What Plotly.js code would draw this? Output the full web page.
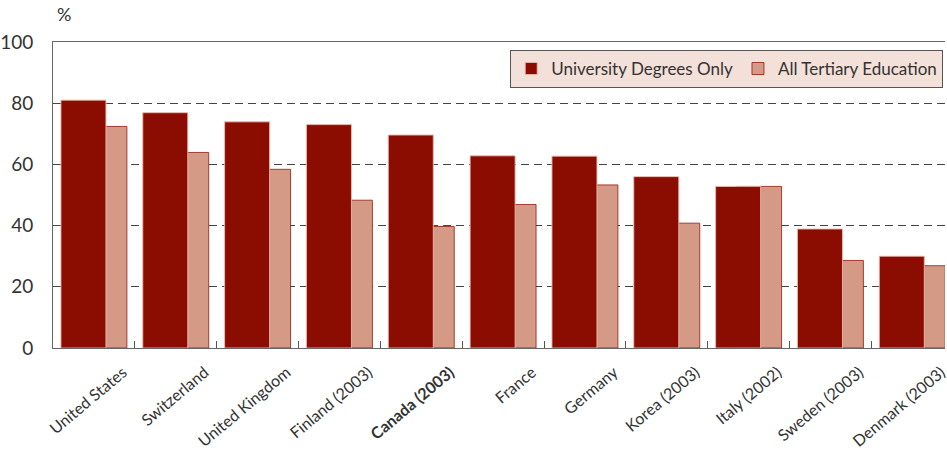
<!DOCTYPE html>
<html>
<head>
<meta charset="utf-8">
<script src="https://cdn.plot.ly/plotly-3.0.1.min.js"></script>
<style>
  html, body { margin: 0; padding: 0; background: #fff; }
  #chart { width: 947px; height: 454px; }
</style>
</head>
<body>
<div id="chart"></div>
<script>
// Share of graduates, by country (%)
const countries = ["United States", "Switzerland", "United Kingdom", "Finland (2003)", "Canada (2003)",
                   "France", "Germany", "Korea (2003)", "Italy (2002)", "Sweden (2003)", "Denmark (2003)"];
const universityDegrees = [81.0, 76.9, 73.9, 73.0, 69.6, 62.8, 62.7, 56.0, 52.8, 38.9, 30.0];
const allTertiary       = [72.4, 63.9, 58.4, 48.3, 39.7, 46.9, 53.3, 40.8, 52.8, 28.6, 26.9];
const highlighted = "Canada (2003)";
const yTicks = [0, 20, 40, 60, 80, 100];

const xLabels = countries.map(c => c === highlighted ? "<b>" + c + "</b>" : c);

const FONT = "Lato, Roboto, Arial, sans-serif";
const TEXT = "#333333";

// light bars first so the dark bars overlap them
const traces = [
  {
    type: "bar",
    name: "All Tertiary Education",
    x: xLabels,
    y: allTertiary,
    width: 0.55,
    offset: -0.147,
    marker: { color: "#d49a86", line: { color: "rgba(150,25,15,0.8)", width: 1 } },
    legendrank: 2,
    hoverinfo: "x+y"
  },
  {
    type: "bar",
    name: "University Degrees Only",
    x: xLabels,
    y: universityDegrees,
    width: 0.55,
    offset: -0.403,
    marker: { color: "#8b0d01", line: { color: "rgba(235,185,175,0.9)", width: 1 } },
    legendrank: 1,
    hoverinfo: "x+y"
  }
];

const layout = {
  width: 947,
  height: 454,
  margin: { l: 53, r: 2, t: 42, b: 106 },
  paper_bgcolor: "#ffffff",
  plot_bgcolor: "#ffffff",
  barmode: "overlay",
  font: { family: FONT, color: TEXT, size: 16 },
  showlegend: true,
  legend: {
    orientation: "h",
    x: 0.998, xanchor: "right",
    y: 0.974, yanchor: "top",
    bgcolor: "#f3e0d8",
    bordercolor: "#555555",
    borderwidth: 1,
    font: { family: FONT, size: 17, color: TEXT },
    traceorder: "normal"
  },
  xaxis: {
    type: "category",
    range: [-0.5, 10.4],
    showline: true,
    mirror: true,
    linecolor: "#666666",
    linewidth: 1,
    ticks: "inside",
    tickson: "boundaries",
    ticklen: 7,
    tickcolor: "#555555",
    showgrid: false,
    tickangle: -40,
    ticklabelshift: 29,
    ticklabelstandoff: 8,
    tickfont: { family: FONT, size: 16, color: TEXT },
    fixedrange: true
  },
  yaxis: {
    range: [0, 100],
    tickvals: yTicks,
    showline: true,
    linecolor: "#666666",
    linewidth: 1,
    ticks: "",
    showgrid: true,
    gridcolor: "#444444",
    gridwidth: 1,
    griddash: "8px,5px",
    zeroline: false,
    ticklabelstandoff: 15,
    tickfont: { family: FONT, size: 19, color: TEXT },
    fixedrange: true
  },
  annotations: [
    {
      text: "%",
      xref: "paper", yref: "paper",
      x: 0.002, y: 1.05,
      xanchor: "left", yanchor: "bottom",
      showarrow: false,
      font: { family: FONT, size: 18, color: TEXT }
    }
  ]
};

Plotly.newPlot("chart", traces, layout, { displayModeBar: false, staticPlot: true });
</script>
</body>
</html>
